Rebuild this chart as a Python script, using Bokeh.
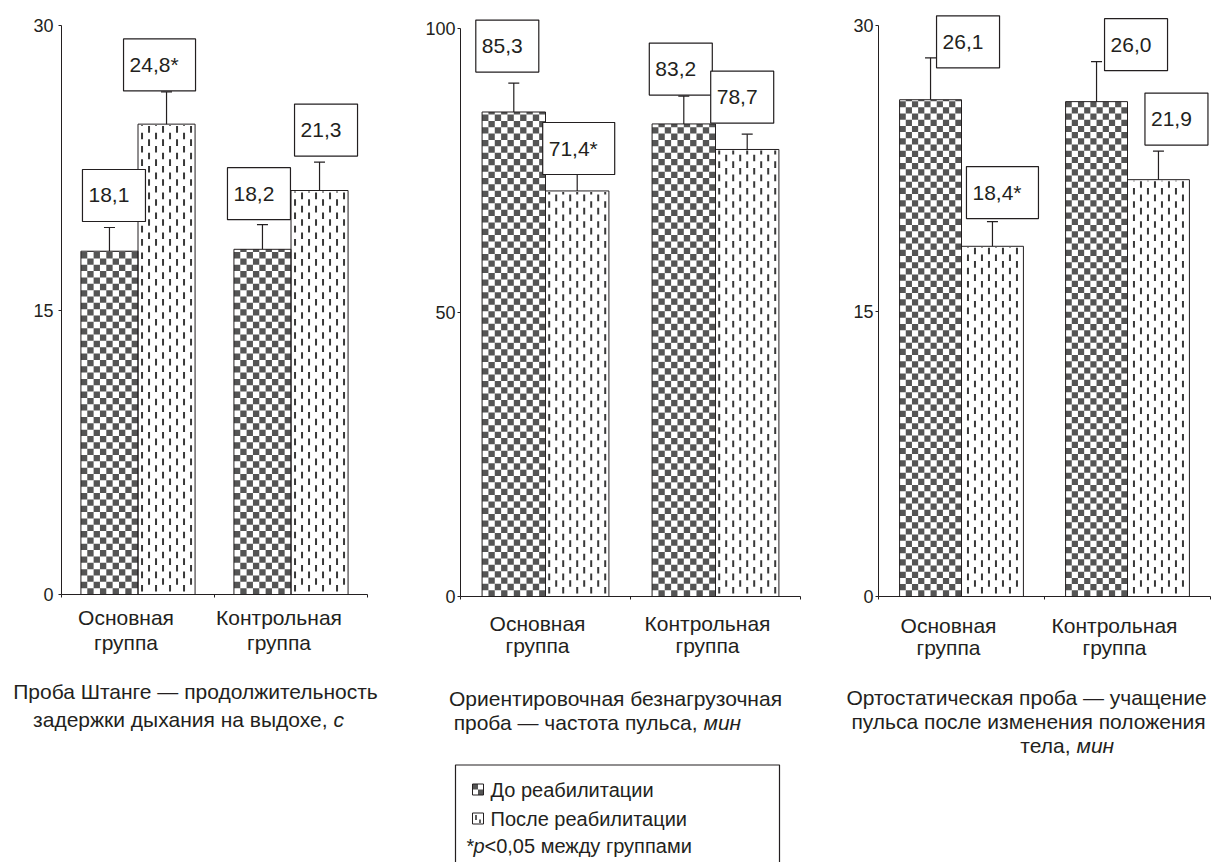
import numpy as np
from bokeh.plotting import figure
from bokeh.models import Range1d, FixedTicker, Whisker, TeeHead, ColumnDataSource
from bokeh.layouts import row, column
from bokeh.embed import file_html
from bokeh.resources import INLINE
from bokeh.core.properties import value

# ---------------- data ----------------
groups = ["Основная\nгруппа", "Контрольная\nгруппа"]
series_names = ["До реабилитации", "После реабилитации"]
note_parts = ["*", "p", "<0,05 между группами"]

shtange_before = [18.1, 18.2]
shtange_after = [24.8, 21.3]
shtange_before_err = [1.25, 1.3]
shtange_after_err = [1.7, 1.5]

pulse_before = [85.3, 83.2]
pulse_after = [71.4, 78.7]
pulse_before_err = [5.1, 4.9]
pulse_after_err = [2.9, 2.7]

ortho_before = [26.1, 26.0]
ortho_after = [18.4, 21.9]
ortho_before_err = [2.2, 2.1]
ortho_after_err = [1.3, 1.5]

significant_after = [True, False]

shtange_ticks = [0, 15, 30]
pulse_ticks = [0, 50, 100]
ortho_ticks = [0, 15, 30]

shtange_title = [("Проба Штанге — продолжительность", ""),
                 ("задержки дыхания на выдохе,", "с")]
pulse_title = [("Ориентировочная безнагрузочная", ""),
               ("проба — частота пульса,", "мин")]
ortho_title = [("Ортостатическая проба — учащение", ""),
               ("пульса после изменения положения", ""),
               ("тела,", "мин")]

# ---------------- style / layout ----------------
FONT = "Liberation Sans"
INK = "#231f20"
DARK = "#555555"
DASH = "#383838"
BAR_W = 0.373
CHECK_PX = 6.33
DASH_DX = 7.0
DASH_PERIOD = 13.3
DASH_LEN = 6.6
CHART_H = 606
CAP_H = 256
CAT_SIZE = "21px"
TITLE_SIZE = "21px"

layouts = [
    dict(fig_left=0, width=420, frame_left=61, frame_right=367, zero=594,
         top_tick=25, frame_top=25, standoff=5,
         box_dx=[-27, -43, -35, -25], box_dy=[6, 1, 5, 6],
         cat_y=[617, 642], cat_dx=-12,
         title_x=[195, 191], title_y=[691, 719], split=[None, 333]),
    dict(fig_left=420, width=400, frame_left=460, frame_right=800, zero=596,
         top_tick=28, frame_top=11, standoff=2,
         box_dx=[-38, -34.5, -34.5, -36.5], box_dy=[11, 0, 1, 11],
         cat_y=[623, 645], cat_dx=-8,
         title_x=[615, 607], title_y=[698, 722], split=[None, 703]),
    dict(fig_left=820, width=392, frame_left=878, frame_right=1210, zero=596,
         top_tick=25, frame_top=13, standoff=2,
         box_dx=[6, -26, 8, -13.5], box_dy=[-10, 3, -9, 6],
         cat_y=[625, 647], cat_dx=-13,
         title_x=[1026, 1028, 1066], title_y=[697, 721, 745], split=[None, None, 1076]),
]

captions = []  # (x, y, text, align, style, size) in page pixels


def fmt(v, star):
    return ("%.1f" % v).replace(".", ",") + ("*" if star else "")


def checker_quads(x_centers, tops, xs, ys):
    L, R, B, T = [], [], [], []
    for xc, top in zip(x_centers, tops):
        w = BAR_W * xs
        n = max(1, int(round(w / CHECK_PX)))
        s = w / n
        left0 = xc - BAR_W / 2
        rows = int(np.ceil(top * ys / s))
        for r in range(rows):
            b = r * s / ys
            t = min((r + 1) * s / ys, top)
            for c in range(n):
                if (r + c) % 2 == 1:
                    L.append(left0 + c * s / xs)
                    R.append(left0 + (c + 1) * s / xs)
                    B.append(b)
                    T.append(t)
    return L, R, B, T


def dash_segments(x_centers, tops, xs, ys):
    X0, Y0, X1, Y1 = [], [], [], []
    for xc, top in zip(x_centers, tops):
        w = BAR_W * xs
        n = int(w // DASH_DX)
        start = (w - (n - 1) * DASH_DX) / 2
        left0 = xc - BAR_W / 2
        htop = top * ys
        for k in range(n):
            x = left0 + (start + k * DASH_DX) / xs
            yb = (k % 2) * DASH_PERIOD / 2 + 3
            while yb < htop - 1:
                ye = min(yb + DASH_LEN, htop - 1)
                X0.append(x); X1.append(x)
                Y0.append(yb / ys); Y1.append(ye / ys)
                yb += DASH_PERIOD
    return X0, Y0, X1, Y1


def make_panel(before, after, before_err, after_err, ticks, title_lines, L):
    ys = (L["zero"] - L["top_tick"]) / ticks[-1]
    y_end = (L["zero"] - L["frame_top"]) / ys
    xs = (L["frame_right"] - L["frame_left"]) / 2.0

    p = figure(width=L["width"], height=CHART_H, x_range=Range1d(0, 2),
               y_range=Range1d(0, y_end), output_backend="svg", toolbar_location=None,
               min_border_left=L["frame_left"] - L["fig_left"],
               min_border_right=L["fig_left"] + L["width"] - L["frame_right"],
               min_border_top=L["frame_top"],
               min_border_bottom=CHART_H - L["zero"])
    p.outline_line_color = None
    p.grid.visible = False
    p.background_fill_color = "white"
    p.border_fill_color = "white"

    ya = p.yaxis[0]
    ya.ticker = FixedTicker(ticks=ticks)
    ya.bounds = (0, ticks[-1])
    ya.axis_line_color = INK
    ya.major_tick_line_color = INK
    ya.major_tick_out = 3
    ya.major_tick_in = 0
    ya.minor_tick_line_color = None
    ya.major_label_text_font = FONT
    ya.major_label_text_font_size = "18px"
    ya.major_label_text_color = INK
    ya.major_label_standoff = L["standoff"]

    xa = p.xaxis[0]
    xa.ticker = FixedTicker(ticks=[0, 1, 2])
    xa.major_label_overrides = {0: "", 1: "", 2: ""}
    xa.major_label_text_font_size = "0px"
    xa.major_label_standoff = 0
    xa.axis_line_color = INK
    xa.major_tick_line_color = INK
    xa.major_tick_out = 3
    xa.major_tick_in = 0
    xa.minor_tick_line_color = None

    centers = np.arange(len(groups)) + 0.5
    x_before = centers - BAR_W / 2
    x_after = centers + BAR_W / 2

    # bar bodies
    p.vbar(x=x_before, top=before, bottom=0, width=BAR_W, fill_color="white", line_color=None)
    p.vbar(x=x_after, top=after, bottom=0, width=BAR_W, fill_color="white", line_color=None)
    ql, qr, qb, qt = checker_quads(x_before, before, xs, ys)
    p.quad(left=ql, right=qr, bottom=qb, top=qt, fill_color=DARK, line_color=None)
    sx0, sy0, sx1, sy1 = dash_segments(x_after, after, xs, ys)
    p.segment(x0=sx0, y0=sy0, x1=sx1, y1=sy1, line_color=DASH, line_width=2)
    p.vbar(x=x_before, top=before, bottom=0, width=BAR_W, fill_color=None,
           line_color=INK, line_width=1)
    p.vbar(x=x_after, top=after, bottom=0, width=BAR_W, fill_color=None,
           line_color=INK, line_width=1)

    bx, bv, be, bt = [], [], [], []
    for i in range(len(groups)):
        bx += [x_before[i], x_after[i]]
        bv += [before[i], after[i]]
        be += [before_err[i], after_err[i]]
        bt += [fmt(before[i], False), fmt(after[i], significant_after[i])]
    bv = np.array(bv)
    be = np.array(be)

    src = ColumnDataSource(dict(x=bx, upper=bv + be, lower=bv - be))
    p.add_layout(Whisker(source=src, base="x", upper="upper", lower="lower",
                         dimension="height", line_color=INK, line_width=1.2,
                         upper_head=TeeHead(size=11, line_color=INK, line_width=1.2),
                         lower_head=TeeHead(size=11, line_color=INK, line_width=1.2)))

    lefts, rights, bottoms, tops = [], [], [], []
    for k in range(len(bx)):
        wpx = 72 if bt[k].endswith("*") else 63
        left = bx[k] + L["box_dx"][k] / xs
        bottom = bv[k] + be[k] + L["box_dy"][k] / ys
        lefts.append(left)
        rights.append(left + wpx / xs)
        bottoms.append(bottom)
        tops.append(bottom + 52 / ys)
    p.quad(left=lefts, right=rights, bottom=bottoms, top=tops, fill_color="white",
           line_color=INK, line_width=1.2)
    p.text(x=[l + 6 / xs for l in lefts], y=[(b + t) / 2 for b, t in zip(bottoms, tops)],
           text=bt, text_font=value(FONT), text_font_size="21px", text_color=INK,
           text_align="left", text_baseline="middle")

    # captions (drawn in the caption strip, page pixel coordinates)
    for i, g in enumerate(groups):
        cx = L["frame_left"] + centers[i] * xs + L["cat_dx"]
        for j, line in enumerate(g.split("\n")):
            captions.append((cx, L["cat_y"][j], line, "center", "normal", CAT_SIZE))
    for j, (normal, ital) in enumerate(title_lines):
        yy = L["title_y"][j]
        if not ital:
            captions.append((L["title_x"][j], yy, normal, "center", "normal", TITLE_SIZE))
        else:
            s = L["split"][j]
            captions.append((s - 6, yy, normal, "right", "normal", TITLE_SIZE))
            captions.append((s, yy, ital, "left", "italic", TITLE_SIZE))
    return p


p1 = make_panel(shtange_before, shtange_after, shtange_before_err, shtange_after_err,
                shtange_ticks, shtange_title, layouts[0])
p2 = make_panel(pulse_before, pulse_after, pulse_before_err, pulse_after_err,
                pulse_ticks, pulse_title, layouts[1])
p3 = make_panel(ortho_before, ortho_after, ortho_before_err, ortho_after_err,
                ortho_ticks, ortho_title, layouts[2])

# ---------------- caption strip with legend ----------------
total_w = sum(L["width"] for L in layouts)
cap = figure(width=total_w, height=CAP_H, x_range=Range1d(0, total_w),
             y_range=Range1d(CHART_H + CAP_H, CHART_H),
             output_backend="svg", toolbar_location=None, min_border=0,
             x_axis_location=None, y_axis_location=None)
cap.outline_line_color = None
cap.grid.visible = False
cap.background_fill_color = "white"
cap.border_fill_color = "white"

for style in ("normal", "italic"):
    for align in ("center", "left", "right"):
        for size in (CAT_SIZE, TITLE_SIZE):
            sel = [c for c in captions if c[3] == align and c[4] == style and c[5] == size]
            if not sel:
                continue
            cap.text(x=[c[0] for c in sel], y=[c[1] for c in sel], text=[c[2] for c in sel],
                     text_font=value(FONT), text_font_size=size, text_color=INK,
                     text_align=align, text_baseline="middle", text_font_style=style)
            captions = [c for c in captions if c not in sel]

# legend box
cap.line(x=[455, 455, 779, 779], y=[870, 764.5, 764.5, 870], line_color=INK, line_width=1.2)
# checker icon
cap.quad(left=[472], right=[483], bottom=[794.5], top=[783.5], fill_color="white",
         line_color=None)
cap.quad(left=[472, 477.5], right=[477.5, 483], bottom=[789, 794.5], top=[783.5, 789],
         fill_color=DARK, line_color=None)
cap.quad(left=[472], right=[483], bottom=[794.5], top=[783.5], fill_color=None,
         line_color=INK, line_width=1)
# dash icon
cap.quad(left=[472], right=[483], bottom=[823.5], top=[812.5], fill_color="white",
         line_color=INK, line_width=1)
cap.segment(x0=[475.5, 479.5], y0=[814.5, 819], x1=[475.5, 479.5], y1=[819.5, 822.5],
            line_color=DASH, line_width=1.6)
LEG_SIZE = "20px"
cap.text(x=[490, 490], y=[789, 818], text=series_names, text_font=value(FONT),
         text_font_size=LEG_SIZE, text_color=INK, text_align="left", text_baseline="middle")
cap.text(x=[466], y=[845], text=[note_parts[0]], text_font=value(FONT),
         text_font_size=LEG_SIZE, text_color=INK, text_align="left", text_baseline="middle")
cap.text(x=[473], y=[845], text=[note_parts[1]], text_font=value(FONT),
         text_font_size=LEG_SIZE, text_color=INK, text_align="left", text_baseline="middle",
         text_font_style="italic")
cap.text(x=[484], y=[845], text=[note_parts[2]], text_font=value(FONT),
         text_font_size=LEG_SIZE, text_color=INK, text_align="left", text_baseline="middle")

layout = column(row(column(p1), column(p2), column(p3)), row(cap))
open("out.html", "w").write(file_html(layout, INLINE))
